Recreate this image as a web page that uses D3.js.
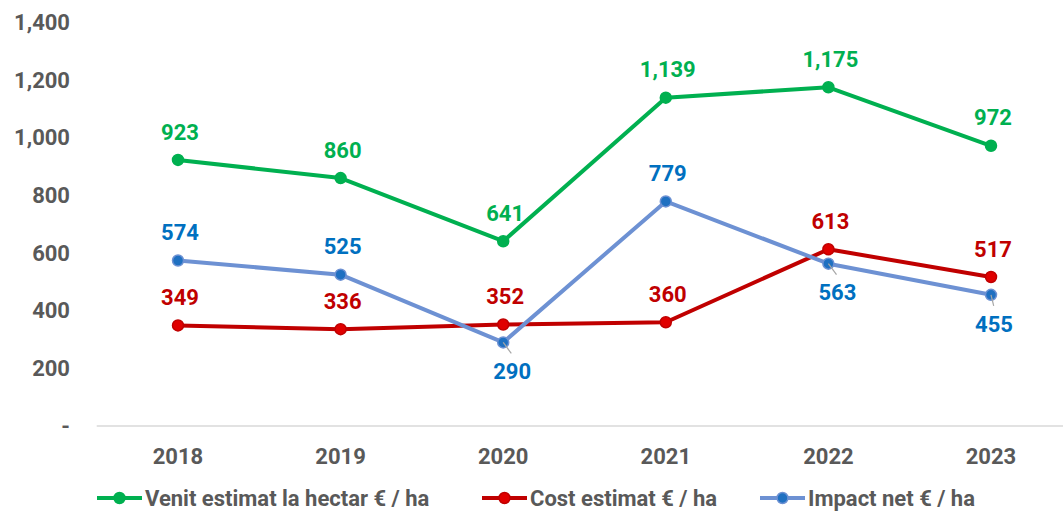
<!DOCTYPE html>
<html>
<head>
<meta charset="utf-8">
<script src="https://cdn.jsdelivr.net/npm/d3@7"></script>
<style>
  html, body { margin: 0; padding: 0; background: #fff; }
  svg { display: block; font-family: "Roboto", "Noto Sans", sans-serif; font-weight: bold; }
</style>
</head>
<body>
<svg id="chart" width="1063" height="512"></svg>
<script>
// data
const years = ["2018", "2019", "2020", "2021", "2022", "2023"];
const venit = [923, 860, 641, 1139, 1175, 972];
const cost = [349, 336, 352, 360, 613, 517];
const impact = [574, 525, 290, 779, 563, 455];
const yTicks = [0, 200, 400, 600, 800, 1000, 1200, 1400];
const seriesNames = ["Venit estimat la hectar € / ha", "Cost estimat € / ha", "Impact net € / ha"];
// where each impact label sits (below ones get a leader line)
const impactLabelPos = ["above", "above", "below", "above", "below", "below"];

const svg = d3.select("#chart");
const fmt = d3.format(",");
const fs = 22;

const x = d3.scalePoint().domain(years).range([96.7, 1072.3]).padding(0.5);
const y = d3.scaleLinear().domain([0, 1400]).range([426, 22.4]);

// y axis labels (no line)
svg.append("g")
    .selectAll("text")
    .data(yTicks)
    .enter()
    .append("text")
    .attr("x", 70)
    .attr("y", (d) => y(d))
    .attr("dy", "0.35em")
    .attr("text-anchor", "end")
    .attr("font-size", fs)
    .attr("fill", "#595959")
    .text((d) => (d === 0 ? "-" : fmt(d)));

// baseline
svg.append("line")
    .attr("x1", 96.7).attr("x2", 1063)
    .attr("y1", y(0)).attr("y2", y(0))
    .attr("stroke", "#d9d9d9").attr("stroke-width", 1.5);

// x labels
svg.append("g")
    .selectAll("text")
    .data(years)
    .enter()
    .append("text")
    .attr("x", (d) => x(d))
    .attr("y", 456)
    .attr("dy", "0.35em")
    .attr("text-anchor", "middle")
    .attr("font-size", fs)
    .attr("fill", "#595959")
    .text((d) => d);

const series = [
    { name: seriesNames[0], values: venit, line: "#00b050", fill: "#00b050", dot: "#00b050", label: "#00b050", pos: years.map(() => "above") },
    { name: seriesNames[1], values: cost, line: "#c00000", fill: "#e00000", dot: "#c00000", label: "#c00000", pos: years.map(() => "above") },
    { name: seriesNames[2], values: impact, line: "#6d91d3", fill: "#1f70c1", dot: "#6d91d3", label: "#0070c0", pos: impactLabelPos }
];

const lineGen = d3.line().x((d, i) => x(years[i])).y((d) => y(d));

// lines + markers
series.forEach((s) => {
    const g = svg.append("g");
    g.append("path")
        .datum(s.values)
        .attr("d", lineGen)
        .attr("fill", "none")
        .attr("stroke", s.line)
        .attr("stroke-width", 4)
        .attr("stroke-linejoin", "round");
    g.selectAll("circle")
        .data(s.values)
        .enter()
        .append("circle")
        .attr("cx", (d, i) => x(years[i]))
        .attr("cy", (d) => y(d))
        .attr("r", 5.5)
        .attr("fill", s.fill)
        .attr("stroke", s.dot)
        .attr("stroke-width", 1.5);
});

// data labels
series.forEach((s) => {
    const g = svg.append("g");
    s.values.forEach((v, i) => {
        const px = x(years[i]);
        const py = y(v);
        if (s.pos[i] === "above") {
            g.append("text")
                .attr("x", px + 2)
                .attr("y", py - 28)
                .attr("dy", "0.35em")
                .attr("text-anchor", "middle")
                .attr("font-size", fs)
                .attr("fill", s.label)
                .text(fmt(v));
        } else {
            const dx = i === 5 ? 3 : 9;
            g.append("line")
                .attr("x1", px).attr("y1", py)
                .attr("x2", px + dx * 0.9).attr("y2", py + 11)
                .attr("stroke", "#a6a6a6").attr("stroke-width", 1.2);
            g.append("text")
                .attr("x", px + dx)
                .attr("y", py + 29)
                .attr("dy", "0.35em")
                .attr("text-anchor", "middle")
                .attr("font-size", fs)
                .attr("fill", s.label)
                .text(fmt(v));
        }
    });
});

// legend
const legendX = [97, 482, 760];
const legend = svg.append("g");
series.forEach((s, i) => {
    const lg = legend.append("g").attr("transform", `translate(${legendX[i]},498)`);
    lg.append("line").attr("x1", 0).attr("x2", 45).attr("y1", 0).attr("y2", 0)
        .attr("stroke", s.line).attr("stroke-width", 4);
    lg.append("circle").attr("cx", 22.5).attr("cy", 0).attr("r", 5.5)
        .attr("fill", s.fill).attr("stroke", s.dot).attr("stroke-width", 1.5);
    lg.append("text").attr("x", 48).attr("y", 0).attr("dy", "0.35em")
        .attr("font-size", fs).attr("fill", "#595959").text(s.name);
});
</script>
</body>
</html>
